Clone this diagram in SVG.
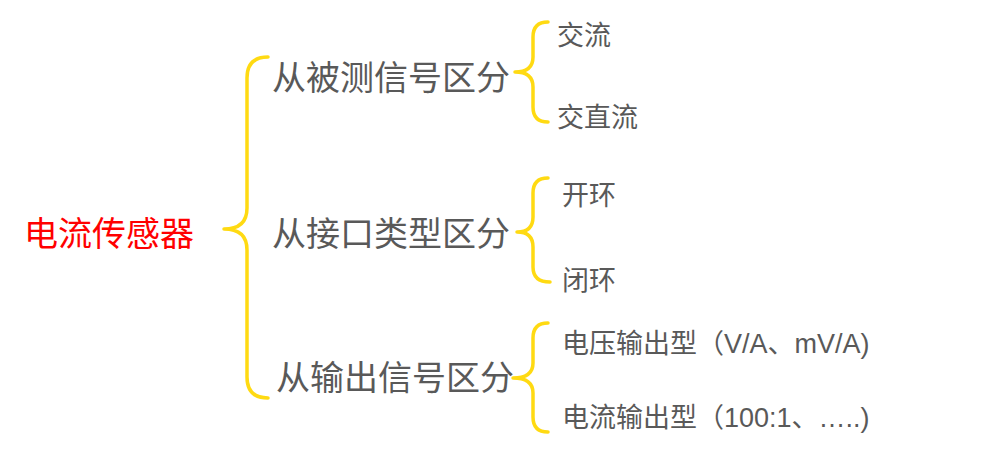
<svg xmlns="http://www.w3.org/2000/svg" width="982" height="453" viewBox="0 0 982 453">
<style>
.br{fill:none;stroke:#FFDA12;stroke-width:3.5;stroke-linecap:round;stroke-linejoin:round}
.t{font-family:"Noto Sans CJK SC",sans-serif;fill:#595959}
.l{font-size:34px}
.s{font-family:"Liberation Sans","Noto Sans CJK SC",sans-serif;font-size:27px}
.root{font-family:"Noto Sans CJK SC",sans-serif;font-size:34px;fill:#FF0000}
</style>
<rect width="982" height="453" fill="#FFFFFF"/>
<g id="connectors">
<path class="br" d="M268,57 Q247,57 247,78 L247,208 Q247,229 224,229 Q247,229 247,250 L247,377 Q247,398 268,398"/>
<path class="br" d="M548,22 Q533,22 533,37 L533,57 Q533,72 515,72 Q533,72 533,87 L533,107 Q533,122 548,122"/>
<path class="br" d="M548,178 Q533,178 533,193 L533,217 Q533,232 517,232 Q533,232 533,247 L533,267 Q533,282 550,282"/>
<path class="br" d="M548,323 Q533,323 533,338 L533,363 Q533,378 513,378 Q533,378 533,393 L533,417 Q533,432 548,432"/>
</g>
<g id="root"><text class="root" x="24" y="246">电流传感器</text></g>
<g id="n1"><text class="t l" x="272" y="90">从被测信号区分</text></g>
<g id="n2"><text class="t l" x="272" y="246">从接口类型区分</text></g>
<g id="n3"><text class="t l" x="276" y="390">从输出信号区分</text></g>
<g id="n1a"><text class="t s" x="557" y="45">交流</text></g>
<g id="n1b"><text class="t s" x="557" y="127">交直流</text></g>
<g id="n2a"><text class="t s" x="562" y="205">开环</text></g>
<g id="n2b"><text class="t s" x="562" y="290">闭环</text></g>
<g id="n3a"><text class="t s" x="562" y="353">电压输出型（V/A、mV/A)</text></g>
<g id="n3b"><text class="t s" x="562" y="427">电流输出型（100:1、…..)</text></g>
</svg>
